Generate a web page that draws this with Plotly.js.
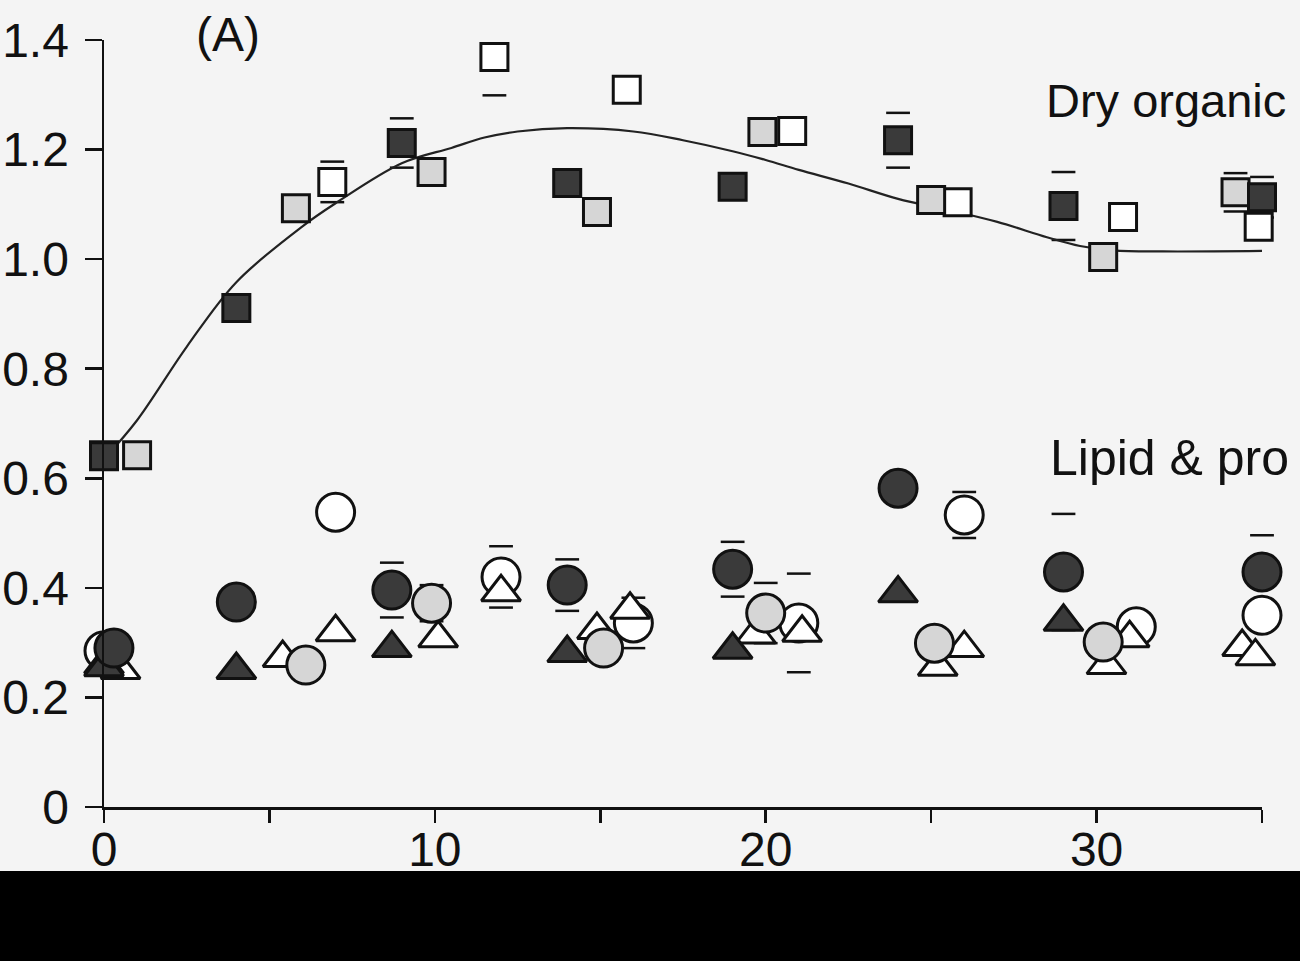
<!DOCTYPE html>
<html>
<head>
<meta charset="utf-8">
<script src="https://cdn.plot.ly/plotly-3.0.1.min.js"></script>
<style>html,body{margin:0;padding:0;background:#f4f4f4;}#chart{width:1300px;height:961px;}</style>
</head>
<body>
<div id="chart"></div>
<script>
// ---- Dry organic matter (squares) ----
var sqOpenX = [0, 6.9, 11.8, 15.8, 20.8, 25.8, 30.8, 34.9];
var sqOpenY = [0.642, 1.141, 1.369, 1.309, 1.234, 1.104, 1.077, 1.059];
var sqOpenErr = [0, 0.037, 0.07, 0, 0, 0, 0, 0];

var sqStipX = [1, 5.8, 9.9, 14.9, 19.9, 25, 30.2, 34.2];
var sqStipY = [0.642, 1.093, 1.159, 1.086, 1.232, 1.108, 1.004, 1.122];
var sqStipErr = [0, 0, 0, 0, 0, 0, 0, 0.035];

var sqDarkX = [0, 4, 9, 14, 19, 24, 29, 35];
var sqDarkY = [0.64, 0.911, 1.212, 1.139, 1.132, 1.217, 1.097, 1.113];
var sqDarkErr = [0, 0, 0.045, 0, 0, 0.05, 0.062, 0.037];

// fitted curve
var fitX = [0, 1, 2.5, 4, 6, 7, 9, 10.5, 11.5, 12.5, 14, 16, 17.5, 19, 20, 21, 22.5, 24, 25.5, 27, 28.5, 29.5, 30.5, 32, 35];
var fitY = [0.635, 0.706, 0.84, 0.958, 1.06, 1.102, 1.175, 1.203, 1.222, 1.233, 1.239, 1.233, 1.217, 1.197, 1.181, 1.163, 1.138, 1.11, 1.09, 1.068, 1.04, 1.024, 1.016, 1.014, 1.015];

// ---- Lipid & protein (circles, triangles) ----
var cOpenX = [0, 7, 12, 16, 21, 26, 31.2, 35];
var cOpenY = [0.285, 0.538, 0.42, 0.336, 0.336, 0.533, 0.329, 0.35];
var cOpenErr = [0, 0, 0.056, 0.046, 0.09, 0.042, 0, 0];

var tLightX = [0.5, 5.4, 10.1, 14.9, 19.7, 25.2, 30.3, 34.4];
var tLightY = [0.25, 0.272, 0.308, 0.323, 0.315, 0.256, 0.259, 0.292];

var tOpenX = [0, 7, 12, 15.9, 21.1, 26, 31, 34.8];
var tOpenY = [0.26, 0.319, 0.392, 0.36, 0.318, 0.29, 0.308, 0.275];

var tDarkX = [0, 4, 8.7, 14, 19, 24, 29, 35.2];
var tDarkY = [0.255, 0.25, 0.29, 0.281, 0.287, 0.39, 0.338, 0.28];

var cStipX = [6.1, 9.9, 15.1, 20, 25.1, 30.2, 35.4];
var cStipY = [0.259, 0.372, 0.29, 0.354, 0.299, 0.301, 0.301];
var cStipErr = [0, 0.033, 0, 0.055, 0, 0, 0];

var cDarkX = [0.3, 4, 8.7, 14, 19, 24, 29, 35];
var cDarkY = [0.29, 0.374, 0.396, 0.405, 0.434, 0.582, 0.429, 0.429];
var cDarkErr = [0, 0, 0.05, 0.047, 0.05, 0, 0.106, 0.067];

// ---- tick labels ----
var xTickVals = [0, 5, 10, 15, 20, 25, 30, 35];
var xTickText = ['0', '', '10', '', '20', '', '30', ''];
var yTickVals = [0, 0.2, 0.4, 0.6, 0.8, 1.0, 1.2, 1.4];
var yTickText = ['0', '0.2', '0.4', '0.6', '0.8', '1.0', '1.2', '1.4'];

var DARK = '#3a3a3a', STIP = '#d6d6d6', OPEN = '#ffffff', EDGE = '#111111';

function pts(x, y, symbol, size, fill) {
  return {x: x, y: y, type: 'scatter', mode: 'markers', cliponaxis: false, showlegend: false,
    marker: {symbol: symbol, size: size, color: fill, line: {color: EDGE, width: 3}}};
}
function caps(x, y, e) {
  var cx = [], cy = [];
  for (var i = 0; i < x.length; i++) {
    if (e[i] > 0) { cx.push(x[i], x[i]); cy.push(y[i] + e[i], y[i] - e[i]); }
  }
  return {x: cx, y: cy, type: 'scatter', mode: 'markers', cliponaxis: false, showlegend: false,
    marker: {symbol: 'line-ew', size: 17, color: EDGE, line: {color: EDGE, width: 2.5}}};
}

var traces = [
  caps(sqOpenX, sqOpenY, sqOpenErr),
  caps(sqStipX, sqStipY, sqStipErr),
  caps(sqDarkX, sqDarkY, sqDarkErr),
  caps(cOpenX, cOpenY, cOpenErr),
  caps(cStipX, cStipY, cStipErr),
  caps(cDarkX, cDarkY, cDarkErr),
  {x: fitX, y: fitY, type: 'scatter', mode: 'lines', line: {color: '#222', width: 2.2, shape: 'spline'}, showlegend: false},
  pts(sqOpenX, sqOpenY, 'square', 27, OPEN),
  pts(sqStipX, sqStipY, 'square', 27, STIP),
  pts(sqDarkX, sqDarkY, 'square', 27, DARK),
  pts(cOpenX, cOpenY, 'circle', 38, OPEN),
  pts(tLightX, tLightY, 'triangle-up', 34, OPEN),
  pts(tOpenX, tOpenY, 'triangle-up', 34, OPEN),
  pts(tDarkX, tDarkY, 'triangle-up', 34, DARK),
  pts(cStipX, cStipY, 'circle', 38, STIP),
  pts(cDarkX, cDarkY, 'circle', 38, DARK)
];

var FONT = 'Liberation Sans, Arial, sans-serif';
var layout = {
  width: 1300, height: 961,
  margin: {l: 104, r: 38, t: 40, b: 154},
  paper_bgcolor: '#f4f4f4', plot_bgcolor: '#f4f4f4',
  font: {family: FONT, size: 48, color: '#111'},
  xaxis: {range: [0, 35], tickvals: xTickVals, ticktext: xTickText, ticks: 'outside', ticklen: 13, tickwidth: 2.5,
    tickcolor: '#111', showline: true, linecolor: '#111', linewidth: 2.5, showgrid: false, zeroline: false,
    ticklabelstandoff: -14,
    tickfont: {family: FONT, size: 48, color: '#111'}},
  yaxis: {range: [0, 1.4], tickvals: yTickVals, ticktext: yTickText, ticks: 'outside', ticklen: 17, tickwidth: 2.5,
    tickcolor: '#111', showline: true, linecolor: '#111', linewidth: 2.5, showgrid: false, zeroline: false,
    ticklabelstandoff: 6,
    tickfont: {family: FONT, size: 48, color: '#111'}},
  annotations: [
    {text: '(A)', xref: 'paper', yref: 'paper', x: 0.107, y: 1.007, xanchor: 'center', yanchor: 'middle', showarrow: false,
      font: {family: FONT, size: 48, color: '#111'}},
    {text: 'Dry organic', xref: 'paper', yref: 'paper', x: 0.812, y: 0.921, xanchor: 'left', yanchor: 'middle', showarrow: false,
      font: {family: FONT, size: 47, color: '#111'}},
    {text: 'Lipid &amp; pro', xref: 'paper', yref: 'paper', x: 0.815, y: 0.455, xanchor: 'left', yanchor: 'middle', showarrow: false,
      font: {family: FONT, size: 50, color: '#111'}}
  ],
  shapes: [
    {type: 'rect', xref: 'paper', yref: 'paper', x0: -0.1, x1: 1.05, y0: -0.0834, y1: -0.21, fillcolor: '#000', line: {width: 0}, layer: 'above'}
  ]
};

Plotly.newPlot('chart', traces, layout, {displayModeBar: false, staticPlot: true});
</script>
</body>
</html>
